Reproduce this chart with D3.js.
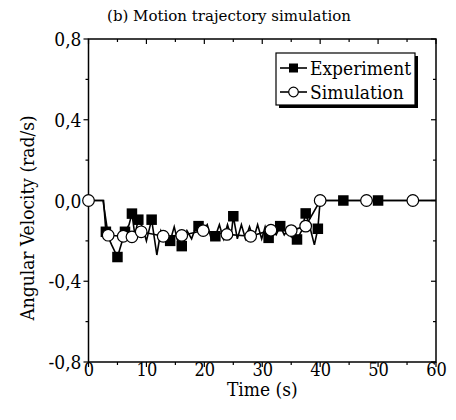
<!DOCTYPE html>
<html><head><meta charset="utf-8">
<script src="https://cdn.jsdelivr.net/npm/d3@7"></script>
<style>body{margin:0;background:#fff}svg{display:block}</style>
</head><body>
<svg id="c" width="456" height="420"></svg>
<script>
// ---- data ----
const chartTitle = "(b) Motion trajectory simulation";
const xLabel = "Time (s)";
const yLabel = "Angular Velocity (rad/s)";
const xTicks = [0, 10, 20, 30, 40, 50, 60];
const yTicks = [-0.8, -0.4, 0.0, 0.4, 0.8];
const yTickLabels = ["-0,8", "-0,4", "0,0", "0,4", "0,8"];
const seriesNames = ["Experiment", "Simulation"];

// Experiment: full measured trace (line)
const expLineT = [0, 2.6, 3.0, 4.0, 5.0, 6.3, 7.0, 7.5, 8.0, 8.6, 9.3, 10.0, 10.9, 11.8, 12.5, 13.2, 14.1, 14.8, 15.4, 16.1, 17.0, 17.8, 18.3, 19.0, 19.8, 20.5, 21.2, 21.9, 22.6, 23.3, 24.0, 24.6, 25.0, 25.7, 26.4, 27.1, 27.8, 28.5, 29.2, 29.9, 30.5, 31.1, 31.8, 32.4, 33.1, 33.8, 34.3, 35.0, 35.5, 36.0, 36.8, 37.5, 38.3, 39.0, 39.6, 40.0, 44.0, 50.0, 60.0];
const expLineV = [0, 0, -0.155, -0.22, -0.28, -0.155, -0.12, -0.065, -0.17, -0.095, -0.13, -0.2, -0.095, -0.27, -0.15, -0.19, -0.2, -0.13, -0.2, -0.226, -0.15, -0.19, -0.15, -0.127, -0.15, -0.12, -0.19, -0.177, -0.12, -0.19, -0.12, -0.18, -0.078, -0.19, -0.12, -0.19, -0.13, -0.19, -0.12, -0.19, -0.13, -0.185, -0.15, -0.17, -0.127, -0.17, -0.15, -0.18, -0.14, -0.193, -0.15, -0.064, -0.14, -0.22, -0.14, 0, 0, 0, 0];
// Experiment: plotted symbols
const expMarkT = [3.0, 5.0, 6.3, 7.5, 8.6, 10.9, 14.1, 16.1, 19.0, 21.9, 25.0, 31.1, 33.1, 36.0, 37.5, 39.6, 44.0, 50.0];
const expMarkV = [-0.155, -0.28, -0.155, -0.065, -0.095, -0.095, -0.2, -0.226, -0.127, -0.177, -0.078, -0.185, -0.127, -0.193, -0.064, -0.14, 0, 0];

// Simulation: line and symbols
const simLineT = [0, 2.5, 3.4, 6.0, 7.5, 9.1, 12.9, 16.1, 19.8, 23.9, 28.0, 31.5, 35.0, 37.5, 40.0, 48.0, 56.0, 60.0];
const simLineV = [0, 0, -0.172, -0.177, -0.18, -0.155, -0.177, -0.173, -0.149, -0.168, -0.177, -0.147, -0.149, -0.127, 0, 0, 0, 0];
const simMarkT = [0, 3.4, 6.0, 7.5, 9.1, 12.9, 16.1, 19.8, 23.9, 28.0, 31.5, 35.0, 37.5, 40.0, 48.0, 56.0];
const simMarkV = [0, -0.172, -0.177, -0.18, -0.155, -0.177, -0.173, -0.149, -0.168, -0.177, -0.147, -0.149, -0.127, 0, 0, 0];

// ---- layout ----
const FONT = "'DejaVu Serif Condensed', 'DejaVu Serif', serif";
const FONT2 = "'DejaVu Serif', serif";
const L = 88.5, R = 436, T = 39, B = 362;
const svg = d3.select("#c");
const x = d3.scaleLinear().domain([0, 60]).range([L, R]);
const y = d3.scaleLinear().domain([-0.8, 0.8]).range([B, T]);

const fmtY = d => yTickLabels[yTicks.findIndex(t => Math.abs(t - d) < 1e-9)];
const xMinor = d3.range(0, 61, 5);
const yMinor = d3.range(-8, 9, 2).map(d => d / 10);

const gAx = svg.append("g").attr("stroke", "#000").attr("stroke-width", 1.2);
xMinor.forEach(t => {
  const major = xTicks.includes(t);
  const len = major ? 5 : 3;
  gAx.append("line").attr("x1", x(t)).attr("x2", x(t)).attr("y1", B).attr("y2", B + len);
  gAx.append("line").attr("x1", x(t)).attr("x2", x(t)).attr("y1", T).attr("y2", T + len);
});
yMinor.forEach(t => {
  const major = yTicks.some(v => Math.abs(v - t) < 1e-9);
  const len = major ? 5 : 3;
  gAx.append("line").attr("x1", L - len).attr("x2", L).attr("y1", y(t)).attr("y2", y(t));
  gAx.append("line").attr("x1", R - len).attr("x2", R).attr("y1", y(t)).attr("y2", y(t));
});

const xAxis = svg.append("g").attr("transform", `translate(0,${B})`)
  .call(d3.axisBottom(x).tickValues(xTicks).tickSize(0).tickPadding(0).tickFormat(d3.format("d")));
xAxis.select(".domain").remove();
xAxis.attr("font-family", null).attr("font-size", null);
xAxis.selectAll("text").attr("dy", null).attr("y", 14).style("font-family", FONT).style("font-size", "18px").attr("fill", "#000");
const yAxis = svg.append("g").attr("transform", `translate(${L},0)`)
  .call(d3.axisLeft(y).tickValues(yTicks).tickSize(0).tickPadding(7).tickFormat(fmtY));
yAxis.select(".domain").remove();
yAxis.attr("font-family", null).attr("font-size", null);
yAxis.selectAll("text").style("font-family", FONT).style("font-size", "19px").attr("fill", "#000").attr("dy", "0.35em");

svg.append("rect").attr("x", L).attr("y", T).attr("width", R - L).attr("height", B - T)
  .attr("fill", "none").attr("stroke", "#000").attr("stroke-width", 1.5);

const line = d3.line().x(d => x(d[0])).y(d => y(d[1]));
const g = svg.append("g");
g.append("path").datum(expLineT.map((t, i) => [t, expLineV[i]]))
  .attr("d", line).attr("fill", "none").attr("stroke", "#000").attr("stroke-width", 1.6);
g.append("path").datum(simLineT.map((t, i) => [t, simLineV[i]]))
  .attr("d", line).attr("fill", "none").attr("stroke", "#000").attr("stroke-width", 1.6);

const sq = 10.5, cr = 5.8;
g.selectAll("rect.sq").data(expMarkT.map((t, i) => [t, expMarkV[i]])).join("rect").attr("class", "sq")
  .attr("x", d => x(d[0]) - sq / 2).attr("y", d => y(d[1]) - sq / 2).attr("width", sq).attr("height", sq).attr("fill", "#000");
g.selectAll("circle.ci").data(simMarkT.map((t, i) => [t, simMarkV[i]])).join("circle").attr("class", "ci")
  .attr("cx", d => x(d[0])).attr("cy", d => y(d[1])).attr("r", cr).attr("fill", "#fff").attr("stroke", "#000").attr("stroke-width", 1.2);

const lg = svg.append("g");
const lx = 276, ly = 53, lw = 139, lh = 52;
lg.append("rect").attr("x", lx + 3).attr("y", ly + 3).attr("width", lw).attr("height", lh).attr("fill", "#000");
lg.append("rect").attr("x", lx).attr("y", ly).attr("width", lw).attr("height", lh).attr("fill", "#fff").attr("stroke", "#000").attr("stroke-width", 1.2);
seriesNames.forEach((name, i) => {
  const cy = ly + 15 + i * 24;
  lg.append("line").attr("x1", lx + 4).attr("x2", lx + 31).attr("y1", cy).attr("y2", cy).attr("stroke", "#000").attr("stroke-width", 1.6);
  if (i === 0) lg.append("rect").attr("x", lx + 13).attr("y", cy - 4.5).attr("width", 9).attr("height", 9).attr("fill", "#000");
  else lg.append("circle").attr("cx", lx + 17.5).attr("cy", cy).attr("r", 4.8).attr("fill", "#fff").attr("stroke", "#000").attr("stroke-width", 1.2);
  lg.append("text").attr("x", lx + 34).attr("y", cy + 6.5).style("font-family", FONT).style("font-size", "19px").text(name);
});

svg.append("text").attr("x", 229).attr("y", 21).attr("text-anchor", "middle").style("font-family", FONT2).style("font-size", "15px").text(chartTitle);
svg.append("text").attr("x", (L + R) / 2).attr("y", 396).attr("text-anchor", "middle").style("font-family", FONT).style("font-size", "19px").text(xLabel);
svg.append("text").attr("transform", `translate(34,218) rotate(-90)`).attr("text-anchor", "middle").style("font-family", FONT).style("font-size", "19px").text(yLabel);
</script>
</body></html>
